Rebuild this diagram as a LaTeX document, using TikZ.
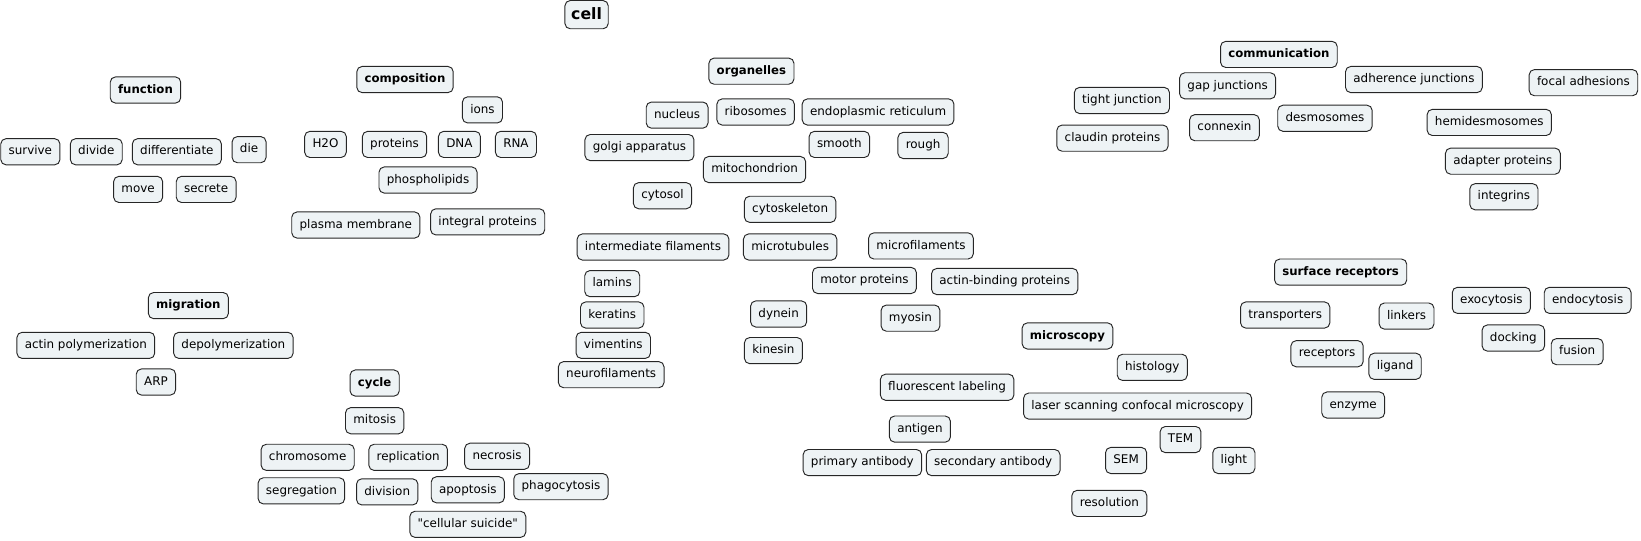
\documentclass[tikz,border=0pt]{standalone}
\usepackage{fontspec}
\setmainfont{DejaVu Sans}[Ligatures=TeXOff]
\definecolor{boxfill}{HTML}{EEF3F5}
\definecolor{boxline}{HTML}{262626}
\tikzset{
  concept/.style={draw=boxline,line width=0.9pt,fill=boxfill,rounded corners=5pt,
    font=\fontsize{11.4}{13}\selectfont,inner xsep=7.5pt,inner ysep=0pt,
    text height=8.7pt,text depth=2.5pt,minimum height=25pt},
  topic/.style={concept,font=\fontsize{11.2}{13}\selectfont\bfseries},
  root/.style={concept,font=\fontsize{15}{17}\selectfont\bfseries,inner xsep=6pt,
    text height=11pt,text depth=1pt,minimum height=27pt}
}
\begin{document}
\begin{tikzpicture}[x=1pt,y=-1pt]
	\useasboundingbox (0,0) rectangle (1568,516);
	\node[root] (cell) at (560.5,14) {cell};
	% function
	\node[topic] (function) at (139,86) {function};
	\node[concept] (survive) at (29,145) {survive};
	\node[concept] (divide) at (92,145) {divide};
	\node[concept] (differentiate) at (169,145) {differentiate};
	\node[concept] (die) at (238,143) {die};
	\node[concept] (move) at (132,181) {move};
	\node[concept] (secrete) at (197,181) {secrete};
	% composition
	\node[topic] (composition) at (387,76) {composition};
	\node[concept] (ions) at (461,105) {ions};
	\node[concept] (water) at (311,138) {H2O};
	\node[concept] (proteins) at (377,138) {proteins};
	\node[concept] (dna) at (439,138) {DNA};
	\node[concept] (rna) at (493,138) {RNA};
	\node[concept] (phospholipids) at (409,172) {phospholipids};
	\node[concept] (plasma) at (340,215) {plasma membrane};
	\node[concept] (integral) at (466,212) {integral proteins};
	% organelles
	\node[topic] (organelles) at (718,68) {organelles};
	\node[concept] (nucleus) at (647,110) {nucleus};
	\node[concept] (ribosomes) at (722,107) {ribosomes};
	\node[concept] (er) at (839,107) {endoplasmic reticulum};
	\node[concept] (golgi) at (611,141) {golgi apparatus};
	\node[concept] (smooth) at (802,138) {smooth};
	\node[concept] (rough) at (882,139) {rough};
	\node[concept] (mito) at (721,162) {mitochondrion};
	\node[concept] (cytosol) at (633,187) {cytosol};
	\node[concept] (cytoskeleton) at (755,200) {cytoskeleton};
	\node[concept] (intermediate) at (624,236) {intermediate filaments};
	\node[concept] (microtubules) at (755,236) {microtubules};
	\node[concept] (microfilaments) at (880,235) {microfilaments};
	\node[concept] (lamins) at (585,271) {lamins};
	\node[concept] (motor) at (826,268) {motor proteins};
	\node[concept] (actinbinding) at (960,269) {actin-binding proteins};
	\node[concept] (keratins) at (585,301) {keratins};
	\node[concept] (dynein) at (744,300) {dynein};
	\node[concept] (myosin) at (870,304) {myosin};
	\node[concept] (vimentins) at (586,330) {vimentins};
	\node[concept] (kinesin) at (739,335) {kinesin};
	\node[concept] (neurofilaments) at (584,358) {neurofilaments};
	% communication
	\node[topic] (communication) at (1222,52) {communication};
	\node[concept] (tight) at (1072,96) {tight junction};
	\node[concept] (gap) at (1173,82) {gap junctions};
	\node[concept] (adherence) at (1351,76) {adherence junctions};
	\node[concept] (focal) at (1513,79) {focal adhesions};
	\node[concept] (claudin) at (1063,132) {claudin proteins};
	\node[concept] (connexin) at (1170,122) {connexin};
	\node[concept] (desmosomes) at (1266,113) {desmosomes};
	\node[concept] (hemidesmosomes) at (1423,117) {hemidesmosomes};
	\node[concept] (adapter) at (1436,154) {adapter proteins};
	\node[concept] (integrins) at (1437,188) {integrins};
	% surface receptors
	\node[topic] (surface) at (1281,260) {surface receptors};
	\node[concept] (transporters) at (1228,301) {transporters};
	\node[concept] (linkers) at (1344,302) {linkers};
	\node[concept] (exocytosis) at (1425,287) {exocytosis};
	\node[concept] (endocytosis) at (1517,287) {endocytosis};
	\node[concept] (docking) at (1446,323) {docking};
	\node[concept] (fusion) at (1507,336) {fusion};
	\node[concept] (receptors) at (1268,338) {receptors};
	\node[concept] (ligand) at (1333,350) {ligand};
	\node[concept] (enzyme) at (1293,387) {enzyme};
	% microscopy
	\node[topic] (microscopy) at (1020,321) {microscopy};
	\node[concept] (histology) at (1101,351) {histology};
	\node[concept] (fluorescent) at (905,370) {fluorescent labeling};
	\node[concept] (confocal) at (1087,388) {laser scanning confocal microscopy};
	\node[concept] (antigen) at (879,410) {antigen};
	\node[concept] (tem) at (1128,420) {TEM};
	\node[concept] (primary) at (824,442) {primary antibody};
	\node[concept] (secondary) at (949,442) {secondary antibody};
	\node[concept] (sem) at (1076,440) {SEM};
	\node[concept] (light) at (1179,440) {light};
	\node[concept] (resolution) at (1060,481) {resolution};
	% migration
	\node[topic] (migration) at (180,292) {migration};
	\node[concept] (actinpoly) at (82,330) {actin polymerization};
	\node[concept] (depoly) at (223,330) {depolymerization};
	\node[concept] (arp) at (149,365) {ARP};
	% cycle
	\node[topic] (cycle) at (358,366) {cycle};
	\node[concept] (mitosis) at (358,402) {mitosis};
	\node[concept] (chromosome) at (294,437) {chromosome};
	\node[concept] (replication) at (390,437) {replication};
	\node[concept] (necrosis) at (475,436) {necrosis};
	\node[concept] (segregation) at (288,469) {segregation};
	\node[concept] (division) at (370,470) {division};
	\node[concept] (apoptosis) at (447,468) {apoptosis};
	\node[concept] (phagocytosis) at (536,465) {phagocytosis};
	\node[concept] (suicide) at (447,501) {"cellular suicide"};
\end{tikzpicture}
\end{document}
